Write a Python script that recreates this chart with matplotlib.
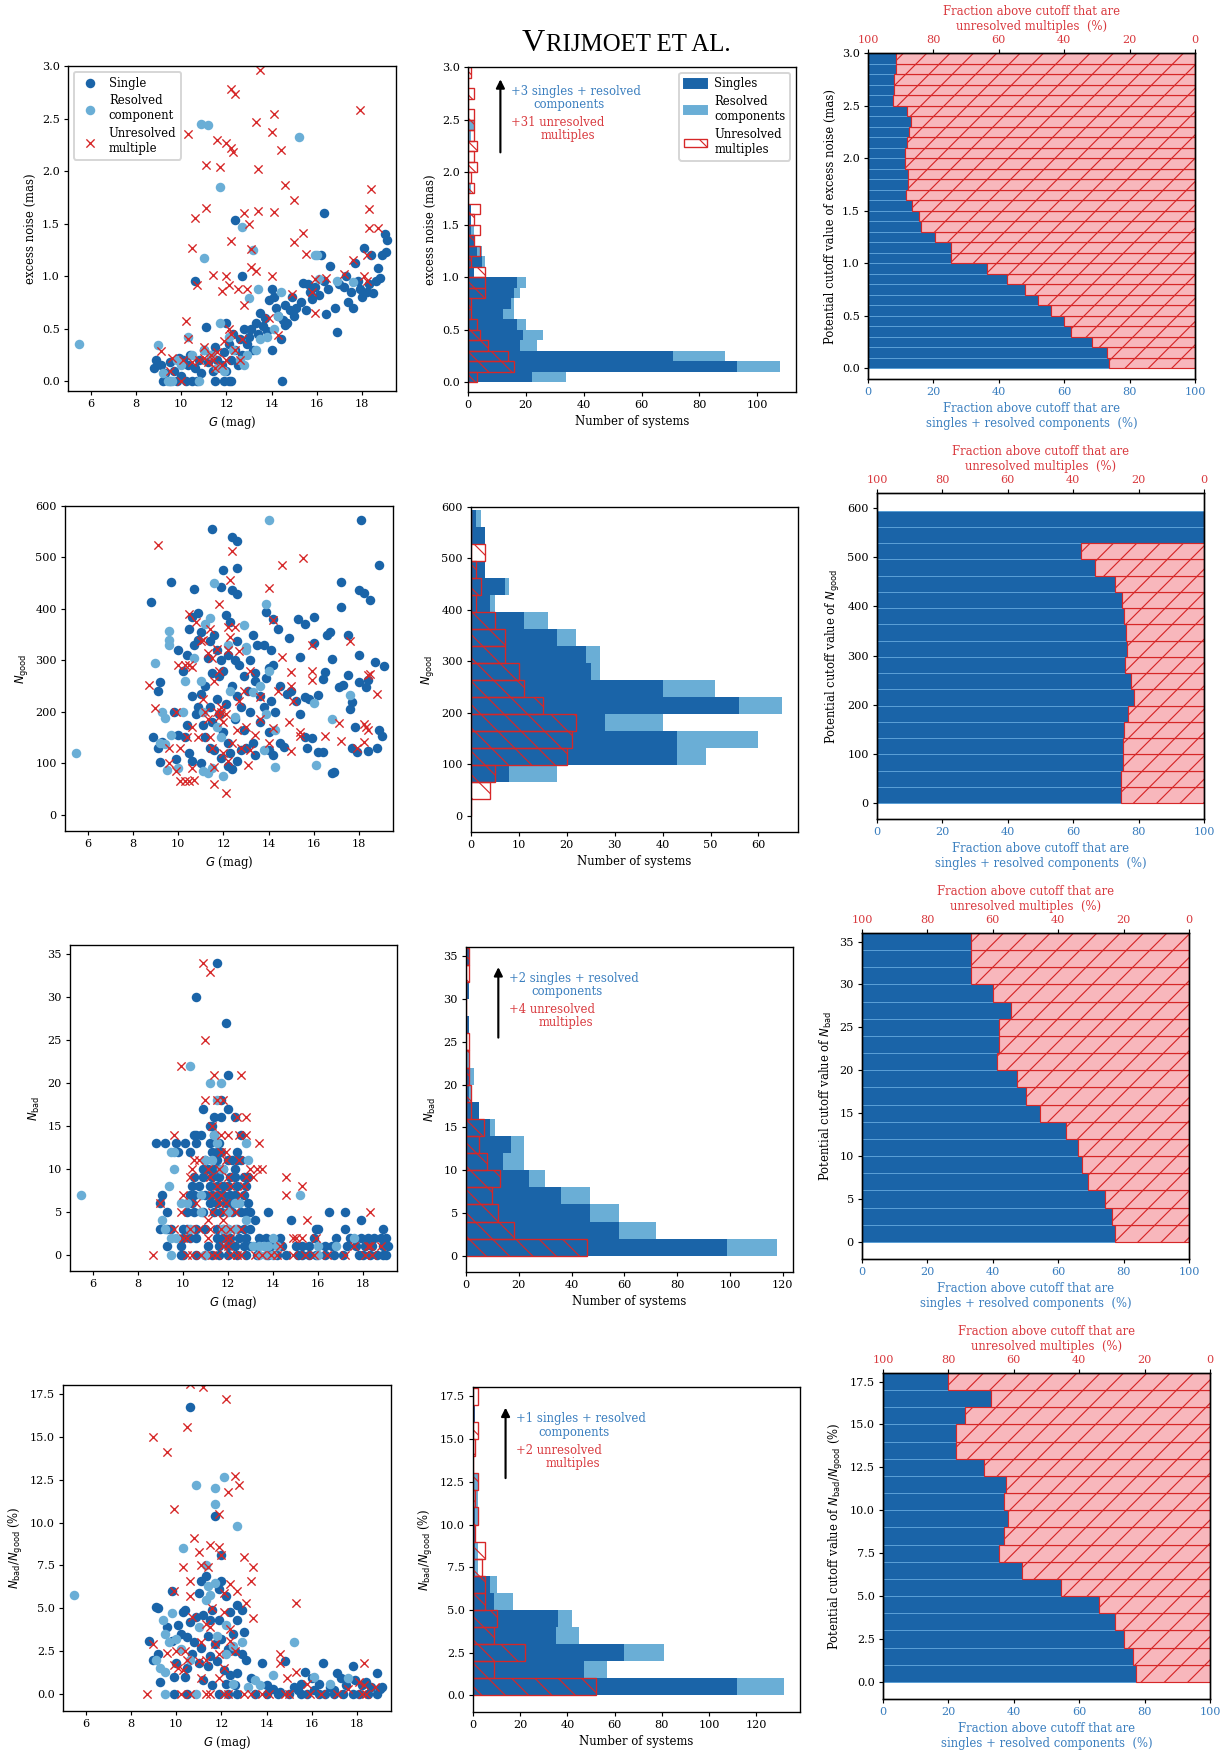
import numpy as np
import matplotlib
matplotlib.use('Agg')
import matplotlib.pyplot as plt
from matplotlib.patches import Patch

DPI = 140
W, H = 1228, 1752

# ---------------------------------------------------------------- data
# scatter points (G mag, value) for singles / resolved components / unresolved multiples
noise_single = [
    (9.2, 0.0), (9.5, 0.0), (9.8, 0.0), (10.2, 0.0), (10.5, 0.0), (10.7, 0.0), (11.5, 0.0), (11.9, 0.0),
    (12.1, 0.0), (12.2, 0.0), (14.45, 0.0),
    (8.8, 0.12), (8.9, 0.2), (9.1, 0.15), (9.3, 0.08), (9.5, 0.18), (9.7, 0.1), (9.9, 0.22), (10.0, 0.05),
    (10.1, 0.2), (10.3, 0.15), (10.4, 0.25), (10.6, 0.12), (10.8, 0.2), (10.9, 0.08), (11.0, 0.3),
    (11.1, 0.51), (11.2, 0.18), (11.3, 0.25), (11.4, 0.1), (11.5, 0.32), (11.6, 0.2), (11.8, 0.15),
    (11.9, 0.28), (12.0, 0.55), (12.0, 0.1), (12.1, 0.35), (12.2, 0.2), (12.3, 0.45), (12.4, 0.3),
    (12.5, 0.15), (12.6, 0.4), (12.7, 0.25), (12.8, 0.5), (12.9, 0.35), (13.0, 0.42), (13.1, 0.5),
    (13.2, 0.3), (13.3, 0.55), (13.4, 0.45), (13.5, 0.65), (13.6, 0.52), (13.7, 0.6), (13.8, 0.48),
    (13.9, 0.77), (14.0, 0.88), (14.1, 0.8), (14.2, 0.7), (14.3, 0.62), (14.5, 0.58), (14.6, 0.72),
    (14.7, 0.55), (14.8, 0.68), (14.9, 0.8), (15.0, 0.62), (15.1, 0.7), (15.3, 0.75), (15.4, 0.93),
    (15.5, 0.68), (15.7, 0.85), (15.8, 0.78), (15.9, 0.9), (16.1, 0.82), (16.2, 1.2), (16.3, 0.95),
    (16.4, 0.64), (16.5, 0.88), (16.6, 1.1), (16.8, 0.7), (16.9, 0.47), (17.0, 0.92), (17.2, 0.9),
    (17.4, 0.75), (17.5, 0.85), (17.6, 0.7), (17.7, 1.12), (17.8, 0.95), (17.9, 0.88), (18.0, 0.8),
    (18.1, 1.27), (18.2, 0.85), (18.3, 0.92), (18.4, 1.2), (18.5, 0.84), (18.7, 1.08), (18.8, 0.98),
    (18.9, 1.2), (19.0, 1.4), (19.05, 1.23), (19.1, 1.34), (18.6, 0.95), (17.3, 1.0), (14.0, 0.3),
    (14.4, 0.4), (10.6, 0.95), (12.4, 1.53), (12.7, 1.0), (16.3, 1.6), (14.6, 0.53), (15.6, 0.92),
]
noise_resolved = [
    (5.5, 0.35), (9.0, 0.34), (9.2, 0.08), (9.4, 0.0), (9.6, 0.0), (9.8, 0.2), (10.0, 0.15), (10.3, 0.42),
    (10.5, 0.25), (10.8, 0.0), (11.0, 0.3), (11.3, 0.25), (11.6, 0.12), (11.7, 0.55), (11.9, 0.1),
    (12.1, 0.42), (12.3, 0.3), (12.6, 0.2), (12.8, 0.15), (12.9, 0.25), (13.0, 0.79), (13.2, 1.25),
    (13.4, 0.88), (13.5, 0.4), (13.3, 0.3), (13.8, 0.42), (14.1, 0.5), (14.3, 0.62), (14.4, 0.85),
    (10.9, 2.45), (11.2, 2.44), (11.7, 1.85), (12.7, 1.47), (11.0, 1.17), (15.2, 2.32), (15.9, 1.2),
    (16.0, 1.2), (16.1, 0.97), (16.9, 0.95), (17.6, 0.94),
]
noise_unresolved = [
    (10.3, 2.35), (12.2, 2.78), (12.4, 2.73), (13.5, 2.96), (11.6, 2.3), (12.0, 2.27), (12.2, 2.22),
    (12.3, 2.18), (13.3, 2.47), (14.0, 2.37), (14.1, 2.54), (14.4, 2.2), (11.1, 2.06), (11.7, 2.04),
    (13.4, 2.02), (14.6, 1.87), (15.0, 1.72), (11.1, 1.65), (10.6, 1.55), (12.8, 1.6), (13.0, 1.5),
    (13.4, 1.62), (14.1, 1.61), (15.4, 1.41), (15.0, 1.32), (10.5, 1.27), (12.2, 1.33), (13.1, 1.26),
    (13.1, 1.09), (13.3, 1.05), (11.4, 1.01), (12.0, 1.0), (14.0, 1.0), (10.7, 0.91), (12.1, 0.91),
    (12.5, 0.88), (12.9, 0.88), (11.8, 0.86), (12.8, 0.72), (13.9, 0.6), (14.3, 0.44), (14.9, 0.83),
    (15.5, 1.21), (15.9, 0.97), (15.9, 0.65), (15.8, 0.85), (16.4, 0.98), (17.2, 1.02), (17.6, 1.15),
    (18.1, 1.0), (18.2, 0.95), (18.2, 1.2), (18.3, 1.46), (18.3, 1.64), (18.4, 1.83), (18.7, 1.46),
    (17.9, 2.58), (10.2, 0.57), (10.3, 0.4), (9.1, 0.29), (9.5, 0.1), (9.6, 0.22), (10.0, 0.0),
    (10.1, 0.2), (10.5, 0.18), (10.8, 0.2), (11.0, 0.32), (11.2, 0.18), (11.3, 0.25), (11.5, 0.12),
    (11.6, 0.28), (11.8, 0.15), (11.9, 0.38), (12.0, 0.2), (12.1, 0.5), (12.2, 0.45), (12.4, 0.3),
    (12.6, 0.2), (12.7, 0.4), (11.4, 0.2), (11.0, 0.22),
]

ngood_single = [
    (8.8, 413), (9.7, 452), (10.7, 438), (11.5, 555), (12.4, 540), (12.6, 532), (12.0, 476), (12.6, 480),
    (11.9, 442), (12.4, 436), (12.6, 428), (18.1, 572), (17.2, 452), (17.2, 404), (18.0, 436), (18.2, 430),
    (18.5, 417), (18.9, 486), (10.9, 392), (12.1, 388), (12.3, 375), (13.9, 393), (14.2, 380), (14.4, 360),
    (14.9, 343), (15.3, 381), (15.6, 370), (16.0, 384), (16.0, 333), (16.6, 350), (16.7, 355), (15.4, 306),
    (13.3, 350), (13.5, 330), (13.8, 330), (14.1, 320), (16.8, 302), (17.5, 350), (18.0, 310), (18.7, 297),
    (19.1, 289), (9.2, 257), (9.1, 240), (9.8, 200), (10.0, 320), (10.2, 280), (10.4, 310), (10.5, 360),
    (10.6, 385), (10.7, 330), (10.9, 340), (11.0, 355), (11.3, 305), (11.4, 338), (11.5, 275), (11.6, 350),
    (11.7, 320), (11.9, 300), (12.0, 280), (12.2, 310), (12.5, 300), (12.6, 338), (12.7, 290), (13.2, 300),
    (13.4, 275), (13.6, 230), (13.9, 265), (14.0, 285), (14.2, 290), (14.5, 250), (14.8, 235), (15.0, 240),
    (15.2, 220), (15.4, 195), (15.6, 228), (15.8, 225), (16.2, 232), (16.4, 263), (16.5, 278), (17.1, 248),
    (17.3, 252), (17.5, 272), (17.6, 205), (17.7, 218), (17.8, 170), (18.0, 258), (18.3, 248), (18.4, 262),
    (18.9, 165), (19.0, 152), (18.4, 124), (18.8, 130), (17.9, 122), (17.7, 130), (16.8, 80), (16.9, 83),
    (16.2, 122), (16.4, 122), (15.9, 148), (15.7, 130), (15.6, 150), (14.5, 140), (14.7, 132), (14.2, 115),
    (14.0, 125), (13.4, 115), (13.3, 140), (12.8, 125), (12.6, 105), (12.4, 88), (12.2, 95), (11.9, 110),
    (11.6, 125), (11.4, 130), (11.0, 100), (10.6, 105), (10.3, 150), (10.0, 155), (9.9, 108), (9.2, 102),
    (8.9, 150), (9.1, 130), (9.3, 142), (10.4, 175), (10.6, 230), (10.8, 195), (11.0, 235), (11.2, 250),
    (11.4, 210), (11.5, 180), (11.7, 225), (11.8, 195), (12.0, 160), (12.1, 215), (12.2, 140), (12.4, 250),
    (12.5, 185), (12.6, 230), (12.8, 210), (12.9, 165), (13.1, 240), (13.2, 200), (13.4, 260), (13.6, 180),
    (13.8, 210), (14.0, 160), (14.1, 220), (14.3, 200), (11.2, 150), (11.8, 270), (12.3, 120), (13.0, 130),
    (10.9, 210), (10.5, 120), (11.1, 175), (12.9, 270),
]
ngood_resolved = [
    (5.5, 120), (9.0, 295), (9.3, 200), (9.4, 187), (9.6, 357), (9.6, 340), (9.6, 330), (9.4, 138),
    (9.2, 140), (9.5, 86), (9.7, 155), (10.0, 90), (10.3, 260), (10.2, 200), (10.7, 305), (11.0, 260),
    (11.2, 370), (11.4, 383), (11.6, 450), (12.2, 330), (12.3, 240), (12.9, 368), (13.0, 325), (13.0, 320),
    (13.3, 238), (13.6, 250), (13.9, 410), (14.0, 573), (14.0, 280), (13.9, 195), (13.8, 125), (14.3, 93),
    (14.3, 165), (16.1, 96), (16.0, 217), (17.6, 232), (16.8, 185), (11.3, 80), (11.1, 85), (11.5, 90),
    (12.0, 75), (11.7, 170), (11.9, 150), (12.5, 190), (11.1, 200),
]
ngood_unresolved = [
    (9.1, 525), (8.7, 252), (9.0, 207), (9.9, 200), (9.6, 130), (9.6, 100), (9.9, 85), (10.0, 290),
    (10.1, 130), (10.1, 65), (10.3, 65), (10.5, 65), (10.7, 67), (10.3, 290), (10.5, 290), (10.6, 287),
    (10.4, 150), (10.6, 170), (10.6, 90), (10.9, 150), (10.5, 390), (10.8, 375), (11.0, 337), (11.1, 340),
    (11.3, 315), (11.4, 360), (11.5, 305), (11.6, 260), (11.7, 322), (11.8, 410), (11.8, 280), (11.1, 225),
    (11.2, 200), (11.3, 185), (11.4, 150), (11.5, 130), (11.6, 93), (11.6, 60), (11.7, 200), (11.9, 210),
    (12.0, 180), (12.1, 42), (12.2, 320), (12.2, 365), (12.3, 345), (12.3, 457), (12.4, 513), (12.5, 365),
    (12.7, 318), (12.7, 220), (12.9, 240), (12.6, 165), (12.2, 105), (12.0, 120), (12.4, 140), (12.8, 130),
    (13.0, 170), (13.1, 96), (13.2, 125), (13.2, 280), (13.4, 155), (13.6, 228), (13.6, 185), (14.0, 440),
    (14.2, 378), (14.0, 140), (14.2, 168), (14.4, 240), (14.6, 486), (14.6, 307), (15.0, 277), (15.0, 250),
    (14.9, 180), (15.0, 124), (15.1, 220), (15.4, 152), (15.4, 160), (15.5, 498), (15.9, 330), (15.9, 280),
    (15.9, 262), (16.5, 152), (17.1, 178), (17.2, 143), (17.6, 338), (17.9, 130), (18.2, 176), (18.2, 142),
    (18.3, 170), (18.4, 165), (18.4, 272), (18.5, 273), (18.8, 235), (11.9, 200), (11.8, 190), (12.1, 195),
]

nbad_single = [
    (11.5, 34), (10.6, 30), (11.9, 27), (12.0, 21), (10.9, 17), (12.0, 17), (11.4, 16), (11.7, 16),
    (12.3, 16), (11.7, 18), (11.2, 15), (11.3, 15), (10.5, 14), (10.6, 14), (10.8, 14), (11.4, 14),
    (12.6, 14), (8.8, 13), (9.2, 13), (9.7, 13), (10.1, 13), (10.6, 13), (11.2, 13), (11.6, 13), (9.8, 12),
    (10.3, 12), (11.3, 12), (11.5, 12), (11.7, 12), (12.4, 12), (11.0, 11), (11.5, 11), (12.0, 11),
    (12.2, 11), (12.4, 11), (12.6, 11), (10.9, 10), (11.1, 10), (11.4, 10), (11.6, 10), (11.8, 10),
    (12.3, 10), (10.5, 9), (10.9, 9), (11.3, 9), (11.6, 9), (12.1, 9), (12.3, 9), (12.7, 9), (12.9, 9),
    (10.4, 8), (10.7, 8), (11.2, 8), (11.5, 8), (11.8, 8), (12.0, 8), (12.4, 8), (12.8, 8), (9.1, 7),
    (10.3, 7), (10.5, 7), (11.0, 7), (11.3, 7), (11.6, 7), (11.8, 7), (12.1, 7), (12.3, 7), (12.7, 7),
    (9.0, 6), (10.4, 6), (11.2, 6), (11.5, 6), (11.9, 6), (12.2, 6), (12.5, 6), (12.9, 6), (9.3, 5),
    (10.2, 5), (10.5, 5), (10.9, 5), (11.4, 5), (11.7, 5), (12.2, 5), (12.6, 5), (12.8, 5), (13.0, 5),
    (13.8, 5), (16.5, 5), (17.2, 5), (9.0, 3), (9.3, 3), (9.5, 3), (10.0, 3), (10.2, 3), (10.6, 3),
    (11.0, 3), (11.5, 3), (11.8, 3), (12.0, 3), (12.4, 3), (12.7, 3), (13.0, 3), (13.2, 4), (14.8, 4),
    (15.9, 3), (16.0, 3), (17.2, 3), (17.9, 4), (18.9, 3), (10.0, 2), (10.3, 2), (10.6, 2), (11.5, 2),
    (11.8, 2), (12.1, 2), (12.5, 2), (12.8, 2), (13.4, 2), (13.7, 2), (14.3, 2), (15.8, 2), (16.8, 2),
    (17.4, 2), (17.9, 2), (18.2, 2), (18.5, 2), (18.8, 2), (19.0, 2), (9.3, 1), (9.9, 1), (11.1, 1),
    (11.6, 1), (12.0, 1), (12.3, 1), (12.7, 1), (13.0, 1), (13.3, 1), (13.9, 1), (14.4, 1), (15.0, 1),
    (15.3, 1), (15.6, 1), (16.3, 1), (16.6, 1), (17.3, 1), (17.7, 1), (18.1, 1), (18.4, 1), (18.9, 1),
    (19.1, 1), (9.9, 0), (10.0, 0), (10.6, 0), (11.0, 0), (11.3, 0), (11.6, 0), (12.0, 0), (12.4, 0),
    (12.8, 0), (13.3, 0), (13.8, 0), (14.2, 0), (14.6, 0), (15.1, 0), (15.3, 0), (15.6, 0), (15.9, 0),
    (16.3, 0), (16.7, 0), (17.1, 0), (17.8, 0), (18.0, 0), (18.3, 0), (18.6, 0), (18.9, 0), (19.0, 0),
]
nbad_resolved = [
    (5.5, 7), (10.3, 22), (11.2, 20), (11.7, 20), (11.5, 18), (11.4, 14), (11.5, 13), (12.8, 13), (9.6, 12),
    (9.5, 12), (11.0, 11), (11.3, 11), (12.9, 11), (9.6, 10), (11.7, 10), (11.8, 10), (9.4, 8), (10.8, 7),
    (15.2, 7), (9.9, 6), (10.2, 6), (12.3, 6), (12.5, 6), (10.8, 5), (12.0, 5), (9.1, 4), (12.8, 4),
    (9.2, 3), (10.3, 3), (11.8, 3), (12.0, 3), (12.3, 3), (9.5, 2), (9.7, 2), (14.0, 2), (17.6, 2),
    (13.1, 1), (13.4, 1), (13.6, 1), (13.8, 1), (14.2, 1), (16.0, 1), (16.8, 1), (9.5, 0), (11.0, 0),
    (13.4, 0), (13.7, 0), (14.0, 0), (16.0, 0),
]
nbad_unresolved = [
    (10.9, 34), (11.2, 33), (11.0, 25), (9.9, 22), (11.4, 21), (12.6, 21), (11.0, 18), (11.5, 18),
    (11.8, 18), (12.4, 16), (12.8, 16), (9.6, 14), (11.3, 15), (11.7, 14), (12.0, 14), (12.5, 14),
    (12.8, 14), (13.4, 13), (11.7, 12), (11.9, 12), (10.5, 11), (10.7, 11), (11.9, 11), (12.5, 11),
    (10.4, 10), (11.1, 10), (11.6, 10), (13.0, 10), (13.3, 10), (13.5, 10), (10.3, 9), (11.2, 9),
    (12.0, 9), (12.8, 9), (13.1, 9), (14.6, 9), (11.5, 8), (12.1, 8), (12.7, 8), (15.3, 8), (10.0, 7),
    (11.3, 7), (11.7, 7), (12.6, 7), (14.6, 7), (9.0, 6), (10.6, 6), (11.6, 6), (11.9, 6), (9.9, 5),
    (11.8, 5), (12.3, 5), (11.3, 5), (15.5, 4), (11.1, 4), (11.8, 4), (9.6, 3), (10.3, 3), (10.7, 3),
    (11.2, 3), (11.7, 3), (12.1, 3), (12.6, 3), (10.0, 2), (10.2, 2), (11.1, 2), (11.9, 2), (12.1, 2),
    (14.9, 2), (15.0, 2), (15.3, 2), (15.9, 2), (11.8, 1), (12.0, 1), (14.3, 1), (17.6, 1), (18.2, 1),
    (18.3, 1), (18.8, 1), (18.3, 5), (8.7, 0), (10.2, 0), (10.4, 0), (10.8, 0), (11.3, 0), (11.5, 0),
    (12.1, 0), (12.4, 0), (12.6, 0), (13.2, 0), (13.5, 0), (13.9, 0), (14.2, 0), (14.9, 0), (15.4, 0),
    (15.8, 0), (16.4, 0), (17.2, 0), (18.1, 0), (18.4, 0),
]

ratio_single = [
    (10.6, 16.75), (11.7, 10.4), (12.0, 8.1), (9.8, 6.0), (11.1, 6.6), (11.3, 6.9), (12.0, 6.6), (11.0, 5.9),
    (11.9, 6.1), (12.2, 5.7), (12.7, 5.2), (12.9, 4.9), (9.1, 5.1), (9.2, 5.0), (10.3, 4.8), (10.4, 4.9),
    (11.2, 4.6), (11.6, 4.9), (12.4, 4.8), (9.6, 3.9), (10.1, 4.0), (10.6, 4.2), (10.9, 4.5), (11.5, 4.3),
    (12.7, 4.3), (13.0, 3.6), (8.8, 3.1), (9.2, 2.3), (9.8, 3.1), (10.2, 3.5), (10.5, 3.3), (10.8, 3.0),
    (11.1, 2.7), (11.4, 3.4), (11.7, 2.9), (12.0, 3.2), (12.3, 2.6), (12.6, 2.5), (12.9, 2.3), (13.1, 2.0),
    (9.0, 2.0), (10.0, 1.8), (10.5, 1.5), (11.0, 1.8), (11.4, 1.6), (11.8, 1.9), (12.1, 1.4), (12.4, 1.1),
    (12.7, 1.2), (9.3, 0.7), (9.9, 1.0), (10.4, 1.0), (11.2, 0.8), (11.6, 0.5), (12.2, 0.6), (12.6, 0.5),
    (13.3, 0.9), (13.8, 1.8), (14.0, 0.5), (14.3, 0.3), (14.8, 1.9), (15.2, 0.4), (15.5, 0.6), (15.7, 1.3),
    (16.0, 0.9), (16.3, 0.6), (16.5, 1.8), (16.8, 0.4), (17.1, 1.2), (17.3, 0.9), (17.8, 1.65), (17.9, 0.8),
    (18.2, 0.5), (18.4, 0.7), (18.6, 0.4), (18.9, 1.2), (19.1, 0.4), (19.0, 0.3), (17.5, 0.5), (17.0, 0.2),
    (16.1, 0.2), (15.4, 0.2), (14.6, 0.1), (9.9, 0.0), (10.5, 0.0), (11.9, 0.0), (12.3, 0.0), (12.7, 0.0),
    (13.5, 0.0), (14.0, 0.0), (14.5, 0.0), (15.0, 0.0), (15.5, 0.0), (15.8, 0.0), (16.3, 0.0), (16.6, 0.0),
    (17.0, 0.0), (17.4, 0.0), (17.8, 0.0), (18.1, 0.0), (18.5, 0.0), (18.9, 0.0), (11.5, 2.2), (12.5, 3.5),
    (11.9, 4.3), (10.7, 2.3),
]
ratio_resolved = [
    (5.5, 5.8), (10.9, 12.2), (12.1, 12.65), (11.7, 12.0), (11.7, 11.1), (12.7, 9.8), (10.3, 8.5),
    (11.3, 7.5), (11.4, 6.3), (11.7, 6.5), (9.8, 4.7), (9.4, 4.3), (9.5, 3.5), (9.7, 3.0), (9.1, 2.0),
    (9.3, 1.5), (9.5, 1.3), (10.0, 3.2), (11.0, 3.9), (11.3, 5.5), (11.8, 3.4), (12.2, 2.3), (12.5, 2.8),
    (12.9, 3.0), (12.2, 4.0), (10.2, 2.6), (10.6, 2.0), (11.5, 5.8), (15.2, 3.0), (14.3, 1.1), (16.1, 1.0),
    (16.8, 0.6), (17.6, 0.9), (13.5, 0.8), (13.2, 0.4), (9.5, 0.0), (10.9, 0.0), (12.5, 0.6), (13.7, 0.5),
]
ratio_unresolved = [
    (10.6, 18.1), (11.2, 17.9), (12.2, 17.2), (10.5, 15.6), (9.0, 15.0), (9.6, 14.1), (12.6, 12.7),
    (12.8, 12.2), (12.3, 11.8), (9.9, 10.8), (11.9, 10.5), (10.8, 9.1), (11.5, 8.7), (11.9, 8.6),
    (12.0, 8.1), (13.0, 8.0), (10.3, 7.4), (11.0, 8.3), (11.1, 7.5), (11.4, 7.4), (13.4, 7.4), (10.6, 6.6),
    (13.3, 6.6), (12.4, 6.4), (12.7, 6.0), (9.9, 6.0), (12.1, 5.9), (10.6, 5.7), (13.1, 5.3), (15.3, 5.3),
    (11.6, 5.0), (12.1, 4.8), (13.4, 4.4), (10.7, 4.5), (11.3, 4.1), (11.5, 3.9), (12.4, 3.8), (11.1, 3.0),
    (11.7, 2.9), (12.4, 3.1), (12.6, 2.5), (9.0, 2.9), (9.6, 2.4), (10.0, 2.5), (10.4, 2.5), (10.5, 2.0),
    (11.0, 1.9), (11.3, 2.0), (11.9, 2.3), (12.1, 1.5), (9.9, 1.7), (10.1, 1.5), (10.3, 1.4), (11.1, 0.9),
    (11.9, 0.9), (14.6, 2.3), (14.6, 1.8), (14.9, 0.9), (15.3, 1.3), (15.8, 0.6), (17.6, 0.3), (18.1, 0.7),
    (18.3, 0.5), (18.3, 1.8), (18.8, 0.4), (8.7, 0.0), (10.2, 0.0), (10.6, 0.0), (11.3, 0.0), (11.5, 0.0),
    (12.1, 0.0), (12.3, 0.0), (13.0, 0.0), (13.3, 0.0), (13.8, 0.0), (14.1, 0.0), (14.8, 0.0), (15.0, 0.0),
    (15.9, 0.0), (16.4, 0.0), (17.1, 0.0), (18.2, 0.0), (18.4, 0.0),
]

# histogram counts per bin (singles, resolved components, unresolved multiples)
noise_edges = np.round(np.arange(31) * 0.1, 2)
noise_hist_single = [22, 93, 71, 18, 19, 17, 12, 15, 16, 17, 2, 5, 3, 2, 1, 1, 1, 0, 0, 0, 0, 0, 0, 0, 0, 0, 0, 0, 0, 0]
noise_hist_resolved = [12, 15, 18, 6, 7, 3, 4, 1, 2, 3, 0, 1, 2, 0, 1, 0, 0, 0, 1, 0, 0, 0, 0, 1, 2, 0, 0, 0, 0, 0]
noise_hist_unresolved = [3, 16, 14, 7, 4, 3, 1, 1, 6, 6, 6, 1, 4, 2, 4, 2, 4, 0, 2, 1, 3, 2, 3, 2, 2, 2, 0, 2, 0, 1]

ngood_edges = np.arange(19) * 33
ngood_hist_single = [0, 0, 8, 43, 43, 28, 56, 40, 25, 24, 18, 11, 4, 7, 3, 0, 3, 1]
ngood_hist_resolved = [0, 0, 10, 6, 17, 12, 9, 11, 2, 3, 4, 5, 1, 1, 0, 0, 0, 1]
ngood_hist_unresolved = [0, 4, 5, 20, 21, 22, 15, 11, 10, 7, 7, 5, 1, 2, 1, 3, 0, 0]

nbad_edges = np.arange(19) * 2
nbad_hist_single = [99, 58, 47, 36, 24, 14, 17, 9, 5, 1, 1, 0, 0, 1, 0, 1, 0, 1]
nbad_hist_resolved = [19, 14, 11, 11, 6, 8, 5, 2, 0, 1, 2, 1, 0, 0, 0, 0, 0, 0]
nbad_hist_unresolved = [46, 18, 12, 10, 13, 8, 5, 7, 2, 2, 1, 1, 1, 0, 0, 0, 1, 1]

ratio_edges = np.arange(19) * 1.0
ratio_hist_single = [112, 47, 64, 35, 36, 9, 7, 1, 1, 1, 1, 0, 0, 0, 0, 0, 1, 0]
ratio_hist_resolved = [20, 10, 17, 10, 6, 8, 3, 1, 1, 0, 1, 2, 2, 0, 0, 0, 0, 0]
ratio_hist_unresolved = [52, 9, 22, 9, 10, 5, 5, 4, 5, 1, 2, 1, 2, 0, 1, 2, 0, 2]

# percentage of systems above each cutoff that are singles + resolved components
noise_frac = [73.8, 73.2, 68.6, 62.0, 60.0, 56.0, 52.1, 47.9, 42.6, 36.3, 25.4, 25.4, 20.4, 16.1, 15.5,
              13.6, 11.5, 12.1, 12.3, 11.2, 11.2, 11.8, 12.4, 13.3, 11.8, 7.5, 7.9, 7.9, 8.5, 8.5]
ngood_frac = [74.6, 74.6, 75.2, 75.2, 75.4, 76.7, 78.5, 77.6, 75.8, 76.5, 76.2, 75.4, 74.8, 72.8, 66.6,
              62.4, 100, 100]
nbad_frac = [77.3, 76.4, 74.4, 69.2, 67.4, 66.0, 62.4, 54.3, 50.1, 47.5, 41.2, 41.8, 41.8, 45.5, 40.1,
             33.4, 33.4, 33.4]
ratio_frac = [77.3, 76.4, 73.8, 71.1, 66.0, 54.4, 42.6, 35.4, 37.1, 38.1, 36.9, 37.5, 30.8, 22.2, 22.2,
              25.0, 33.1, 20.0]

# counts beyond the top of each histogram
noise_extra = (3, 31)
nbad_extra = (2, 4)
ratio_extra = (1, 2)

# ---------------------------------------------------------------- style
DARK = '#1a64a8'
LIGHT = '#6aaed6'
RED = '#d62728'
PINK = '#f8b7bc'
BLUE_TXT = '#3a7ebf'
RED_TXT = '#d93a3f'

plt.rcParams['font.family'] = ['DejaVu Serif']
plt.rcParams['mathtext.fontset'] = 'dejavusans'
plt.rcParams['font.size'] = 6
plt.rcParams['axes.labelsize'] = 6
plt.rcParams['xtick.labelsize'] = 5.8
plt.rcParams['ytick.labelsize'] = 5.8
plt.rcParams['legend.fontsize'] = 6
plt.rcParams['axes.linewidth'] = 0.7
plt.rcParams['xtick.major.size'] = 2
plt.rcParams['ytick.major.size'] = 2
plt.rcParams['xtick.major.width'] = 0.6
plt.rcParams['ytick.major.width'] = 0.6
plt.rcParams['xtick.major.pad'] = 2.2
plt.rcParams['ytick.major.pad'] = 2.2
plt.rcParams['axes.labelpad'] = 2.5
plt.rcParams['hatch.linewidth'] = 0.6

fig = plt.figure(figsize=(W / DPI, H / DPI), dpi=DPI)


def box(x0, y0, x1, y1):
    return [x0 / W, 1 - y1 / H, (x1 - x0) / W, (y1 - y0) / H]


def scatter_panel(ax, single, resolved, unresolved, ylabel, ylim, yticks, legend=False):
    s = np.array(single).T
    r = np.array(resolved).T
    u = np.array(unresolved).T
    ax.scatter(s[0], s[1], s=24, color=DARK, lw=0, label='Single')
    ax.scatter(r[0], r[1], s=24, color=LIGHT, lw=0, label='Resolved\ncomponent')
    ax.scatter(u[0], u[1], s=18, marker='x', color=RED, lw=0.7, label='Unresolved\nmultiple')
    ax.set_xlim(5.0, 19.5)
    ax.set_xticks([6, 8, 10, 12, 14, 16, 18])
    ax.set_ylim(*ylim)
    ax.set_yticks(yticks)
    ax.set_xlabel('$G$ (mag)')
    ax.set_ylabel(ylabel)
    if legend:
        ax.legend(loc='upper left', handletextpad=0.6, borderpad=0.4, labelspacing=0.4)


def hist_panel(ax, edges, single, resolved, unresolved, ylabel, ylim, yticks, xticks):
    y = edges[:-1]
    h = edges[1] - edges[0]
    single = np.array(single)
    ax.barh(y, single, height=h, align='edge', color=DARK, lw=0)
    ax.barh(y, resolved, left=single, height=h, align='edge', color=LIGHT, lw=0)
    ax.barh(y, unresolved, height=h, align='edge', fill=False, edgecolor=RED,
            hatch='\\\\', lw=0.7)
    total = single + np.array(resolved)
    ax.set_xlim(0, total.max() * 1.05)
    ax.set_xticks(xticks)
    ax.set_ylim(*ylim)
    ax.set_yticks(yticks)
    ax.set_xlabel('Number of systems')
    ax.set_ylabel(ylabel)


def extra_note(ax, extra, arrow_x, arrow_y0, arrow_y1, tx, ty, dy, indent1, indent2):
    ax.annotate('', xy=(arrow_x, arrow_y1), xytext=(arrow_x, arrow_y0),
                arrowprops=dict(arrowstyle='-|>', color='k', lw=1.1, mutation_scale=9))
    ax.text(tx, ty, '+%d singles + resolved' % extra[0], color=BLUE_TXT, ha='left', va='center')
    ax.text(indent1, ty - dy, 'components', color=BLUE_TXT, ha='left', va='center')
    ax.text(tx, ty - 2.35 * dy, '+%d unresolved' % extra[1], color=RED_TXT, ha='left', va='center')
    ax.text(indent2, ty - 3.35 * dy, 'multiples', color=RED_TXT, ha='left', va='center')


def frac_panel(ax, edges, frac, ylabel, ylim, yticks):
    y = edges[:-1]
    h = edges[1] - edges[0]
    frac = np.array(frac)
    ax.barh(y, frac, height=h, align='edge', color=DARK, edgecolor='#5a9fd6', lw=0.5)
    ax.barh(y, 100 - frac, left=frac, height=h, align='edge', facecolor=PINK,
            edgecolor=RED, hatch='//', lw=0.6)
    ax.set_xlim(0, 100)
    ax.set_ylim(*ylim)
    ax.set_yticks(yticks)
    ax.set_ylabel('Potential cutoff value of ' + ylabel)
    ax.set_xlabel('Fraction above cutoff that are\nsingles + resolved components  (%)',
                  color=BLUE_TXT)
    ax.tick_params(axis='x', labelcolor=BLUE_TXT)
    top = ax.twiny()
    top.set_xlim(100, 0)
    top.set_xticks([100, 80, 60, 40, 20, 0])
    top.tick_params(axis='x', labelcolor=RED_TXT)
    top.set_xlabel('Fraction above cutoff that are\nunresolved multiples  (%)', color=RED_TXT)


# pixel boxes of the twelve panels (left, middle, right per row)
layout = [
    [(68, 66, 396, 391), (468, 67, 796, 392), (868, 53, 1195, 379)],
    [(65, 506, 393, 831), (471, 507, 798, 832), (877, 493, 1204, 819)],
    [(70, 945, 397, 1271), (466, 947, 793, 1272), (862, 933, 1189, 1259)],
    [(63, 1385, 391, 1711), (473, 1387, 800, 1712), (883, 1373, 1210, 1699)],
]
axes = [[fig.add_axes(box(*b)) for b in row] for row in layout]

noise_ticks = [0.0, 0.5, 1.0, 1.5, 2.0, 2.5, 3.0]
ngood_ticks = [0, 100, 200, 300, 400, 500, 600]
nbad_ticks = [0, 5, 10, 15, 20, 25, 30, 35]
ratio_ticks = [0.0, 2.5, 5.0, 7.5, 10.0, 12.5, 15.0, 17.5]
ratio_label = '$N_\\mathrm{bad}/N_\\mathrm{good}$ (%)'

# row 1: excess noise
scatter_panel(axes[0][0], noise_single, noise_resolved, noise_unresolved,
              'excess noise (mas)', (-0.095, 3.0), noise_ticks, legend=True)
hist_panel(axes[0][1], noise_edges, noise_hist_single, noise_hist_resolved, noise_hist_unresolved,
           'excess noise (mas)', (-0.095, 3.0), noise_ticks, [0, 20, 40, 60, 80, 100])
extra_note(axes[0][1], noise_extra, 11.2, 2.15, 2.92, 14.8, 2.765, 0.124, 22.5, 25.1)
axes[0][1].legend(handles=[Patch(color=DARK, label='Singles'),
                           Patch(color=LIGHT, label='Resolved\ncomponents'),
                           Patch(fill=False, edgecolor=RED, hatch='\\\\', lw=0.7,
                                 label='Unresolved\nmultiples')],
                  loc='upper right', borderpad=0.4, labelspacing=0.4, handletextpad=0.6)
frac_panel(axes[0][2], noise_edges, noise_frac, 'excess noise (mas)', (-0.1, 3.0), noise_ticks)

# row 2: N_good
scatter_panel(axes[1][0], ngood_single, ngood_resolved, ngood_unresolved,
              '$N_\\mathrm{good}$', (-32, 600), ngood_ticks)
hist_panel(axes[1][1], ngood_edges, ngood_hist_single, ngood_hist_resolved, ngood_hist_unresolved,
           '$N_\\mathrm{good}$', (-32, 600), ngood_ticks, [0, 10, 20, 30, 40, 50, 60])
frac_panel(axes[1][2], ngood_edges, ngood_frac, '$N_\\mathrm{good}$', (-32, 630), ngood_ticks)

# row 3: N_bad
scatter_panel(axes[2][0], nbad_single, nbad_resolved, nbad_unresolved,
              '$N_\\mathrm{bad}$', (-1.9, 36.1), nbad_ticks)
hist_panel(axes[2][1], nbad_edges, nbad_hist_single, nbad_hist_resolved, nbad_hist_unresolved,
           '$N_\\mathrm{bad}$', (-1.9, 36.1), nbad_ticks, [0, 20, 40, 60, 80, 100, 120])
extra_note(axes[2][1], nbad_extra, 12.25, 25.05, 34.2, 16.4, 32.46, 1.55, 24.6, 27.4)
frac_panel(axes[2][2], nbad_edges, nbad_frac, '$N_\\mathrm{bad}$', (-2, 36), nbad_ticks)

# row 4: N_bad / N_good
scatter_panel(axes[3][0], ratio_single, ratio_resolved, ratio_unresolved,
              ratio_label, (-1.0, 18.03), ratio_ticks)
hist_panel(axes[3][1], ratio_edges, ratio_hist_single, ratio_hist_resolved, ratio_hist_unresolved,
           ratio_label, (-0.97, 18.05), ratio_ticks, [0, 20, 40, 60, 80, 100, 120])
extra_note(axes[3][1], ratio_extra, 13.8, 12.49, 17.07, 18.35, 16.19, 0.78, 27.5, 30.6)
frac_panel(axes[3][2], ratio_edges, ratio_frac, ratio_label, (-1, 18), ratio_ticks)

# running head in small caps
head = fig.text(522 / W, 1 - 51 / H, 'V', fontsize=16.5, family='Liberation Serif',
                ha='left', va='baseline')
renderer = fig.canvas.get_renderer()
bb = head.get_window_extent(renderer)
fig.text(bb.x1 / W + 0.0005, 1 - 51 / H, 'RIJMOET ET AL.', fontsize=12.8,
         family='Liberation Serif', ha='left', va='baseline')

fig.savefig('out.png', dpi=DPI)
